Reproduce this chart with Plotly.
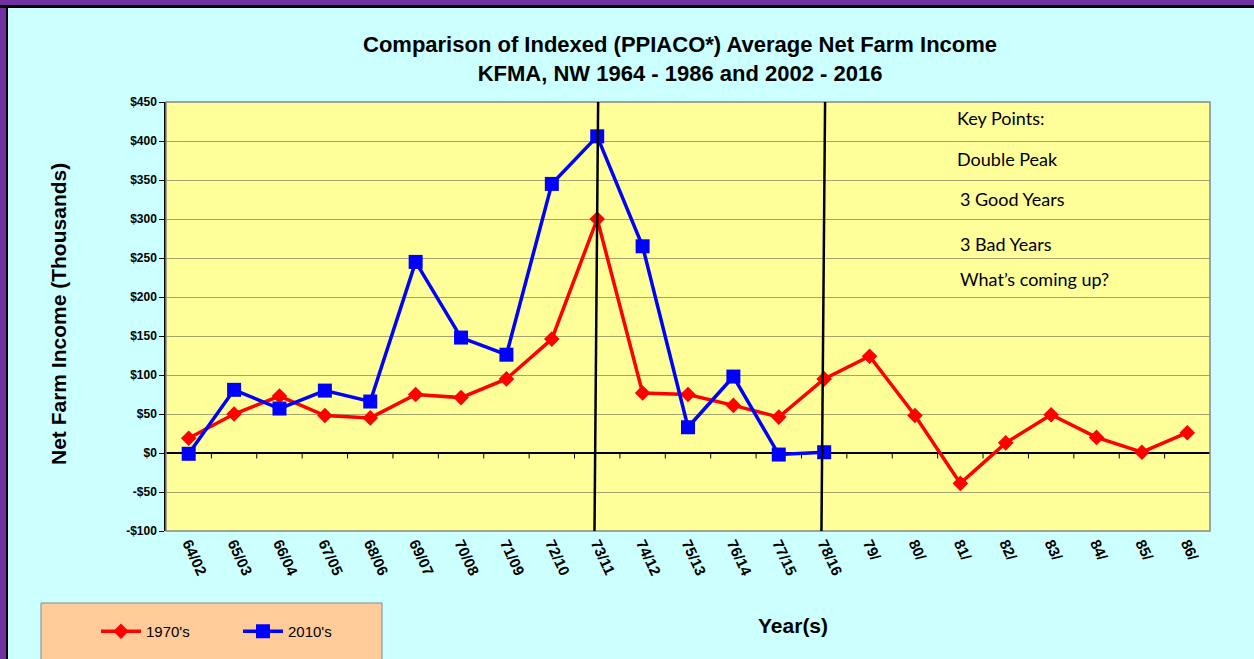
import plotly.graph_objects as go

years = ["64/02", "65/03", "66/04", "67/05", "68/06", "69/07", "70/08", "71/09",
         "72/10", "73/11", "74/12", "75/13", "76/14", "77/15", "78/16", "79/",
         "80/", "81/", "82/", "83/", "84/", "85/", "86/"]
income_1970s = [19, 50, 73, 48, 45, 75, 71, 95, 146, 300, 77, 75, 61, 46, 95, 124,
                48, -39, 13, 49, 20, 1, 26]
income_2010s = [-1, 81, 57, 80, 66, 245, 148, 126, 345, 406, 265, 33, 98, -2, 1]
y_ticks = [-100, -50, 0, 50, 100, 150, 200, 250, 300, 350, 400, 450]
y_tick_labels = [("-$" if v < 0 else "$") + str(abs(v)) for v in y_ticks]
key_points = ["Key Points:", "Double Peak", "3 Good Years", "3 Bad Years", "What\u2019s coming up?"]
key_points_y = [430, 377, 326, 268, 223]
key_points_x = [0.756, 0.756, 0.759, 0.759, 0.759]
marker_lines = ["73/11", "78/16"]

FONT = "Liberation Sans, Arial, sans-serif"
L, R, T, B = 166, 44, 102, 128
PW, PH = 1254 - L - R, 659 - T - B


def px_x(px):
    return (px - L) / PW


def px_y(py):
    return (659 - B - py) / PH


fig = go.Figure()
fig.add_trace(go.Scatter(
    x=years, y=income_1970s, name="1970's", mode="lines+markers",
    line=dict(color="#FF0000", width=3.5),
    marker=dict(symbol="diamond", size=12, color="#FF0000"),
))
fig.add_trace(go.Scatter(
    x=years[:len(income_2010s)], y=income_2010s, name="2010's", mode="lines+markers",
    line=dict(color="#0000FF", width=3.5),
    marker=dict(symbol="square", size=14, color="#0000FF"),
))

shapes = []
shapes.append(dict(type="rect", xref="paper", yref="paper", x0=0, x1=1, y0=0, y1=1,
                   line=dict(color="#888888", width=1.5), layer="above"))
for lbl in marker_lines:
    i = years.index(lbl)
    shapes.append(dict(type="line", xref="x", yref="paper", x0=i - 0.06, x1=i + 0.02,
                       y0=0, y1=1, line=dict(color="black", width=2.5)))
for i in range(len(years) - 1):
    shapes.append(dict(type="line", xref="x", yref="y", x0=i + 0.5, x1=i + 0.5,
                       y0=0, y1=-7, line=dict(color="black", width=1)))
shapes.append(dict(type="rect", xref="paper", yref="paper",
                   x0=px_x(41), x1=px_x(382), y0=px_y(603), y1=px_y(680),
                   fillcolor="#FFCC99", line=dict(color="#888888", width=1), layer="below"))
# outer purple frame with black inner edge
shapes.append(dict(type="rect", xref="paper", yref="paper",
                   x0=px_x(-10), x1=px_x(8), y0=px_y(700), y1=px_y(-20),
                   fillcolor="black", line=dict(width=0), layer="above"))
shapes.append(dict(type="rect", xref="paper", yref="paper",
                   x0=px_x(-10), x1=px_x(6), y0=px_y(700), y1=px_y(-20),
                   fillcolor="#7030A0", line=dict(width=0), layer="above"))
shapes.append(dict(type="rect", xref="paper", yref="paper",
                   x0=px_x(-10), x1=px_x(1300), y0=px_y(8), y1=px_y(-20),
                   fillcolor="black", line=dict(width=0), layer="above"))
shapes.append(dict(type="rect", xref="paper", yref="paper",
                   x0=px_x(-10), x1=px_x(1300), y0=px_y(5), y1=px_y(-20),
                   fillcolor="#7030A0", line=dict(width=0), layer="above"))

annotations = []
for txt, yv, xv in zip(key_points, key_points_y, key_points_x):
    annotations.append(dict(text=txt, xref="paper", yref="y", x=xv, y=yv,
                            xanchor="left", yanchor="middle", showarrow=False,
                            font=dict(family="Lato, Open Sans, sans-serif", size=18, color="black")))
annotations.append(dict(
    text="Comparison of Indexed (PPIACO*) Average Net Farm Income<br>KFMA, NW 1964 - 1986 and 2002 - 2016",
    xref="paper", yref="paper", x=px_x(680), y=px_y(59), xanchor="center", yanchor="middle",
    showarrow=False, font=dict(family=FONT, size=22, color="black", weight="bold")))
annotations.append(dict(
    text="Year(s)", xref="paper", yref="paper", x=px_x(793), y=px_y(625),
    xanchor="center", yanchor="middle", showarrow=False,
    font=dict(family=FONT, size=21, color="black", weight="bold")))
annotations.append(dict(
    text="Net Farm Income (Thousands)", xref="paper", yref="paper", x=px_x(58), y=px_y(314),
    xanchor="center", yanchor="middle", showarrow=False, textangle=-90,
    font=dict(family=FONT, size=21, color="black", weight="bold")))

fig.update_layout(
    width=1254, height=659,
    margin=dict(l=L, r=R, t=T, b=B, autoexpand=False),
    paper_bgcolor="#CCFFFF",
    plot_bgcolor="#FFFF99",
    font=dict(family=FONT, color="black"),
    xaxis=dict(
        type="category", categoryorder="array", categoryarray=years,
        range=[-0.5, len(years) - 0.5], automargin=False,
        tickangle=65, tickfont=dict(family=FONT, size=15, weight="bold"),
        showgrid=False, zeroline=False, showline=False, ticks="",
    ),
    yaxis=dict(
        range=[-100, 450], tickvals=y_ticks, ticktext=y_tick_labels, automargin=False,
        tickfont=dict(family=FONT, size=12, weight="bold"),
        showgrid=True, gridcolor="#A3A36C", gridwidth=1,
        zeroline=True, zerolinecolor="black", zerolinewidth=1.5,
        showline=True, linecolor="black", linewidth=1.5,
        ticks="outside", ticklen=5, tickcolor="black",
    ),
    legend=dict(
        orientation="h", x=px_x(96), xanchor="left",
        y=px_y(615), yanchor="top",
        bgcolor="rgba(0,0,0,0)", font=dict(family=FONT, size=15, color="black"),
        entrywidth=87, entrywidthmode="pixels", itemwidth=40,
    ),
    shapes=shapes,
    annotations=annotations,
)

fig.write_html("out.html", config={"displayModeBar": False},
               post_script="document.body.style.margin='0';")
